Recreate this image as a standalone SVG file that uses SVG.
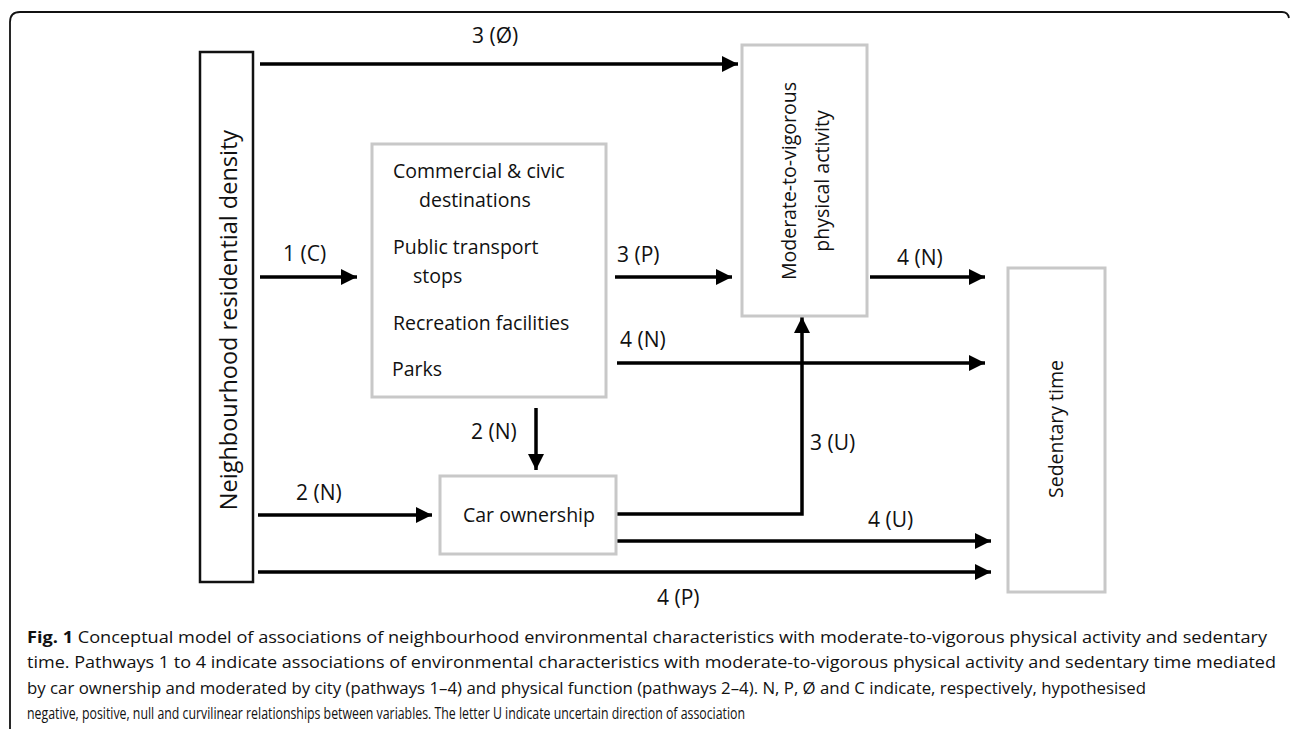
<svg xmlns="http://www.w3.org/2000/svg" width="1290" height="729" viewBox="0 0 1290 729">
<defs>
<style>
.node-dark{fill:#fff;stroke:#111;stroke-width:2.5}
.node-gray{fill:#fff;stroke:#c8c8c8;stroke-width:3}
.t{font-family:"Open Sans","DejaVu Sans",sans-serif;fill:#111}
.box{font-size:19.5px}
.lbl{font-size:21px}
.cap{font-size:16.5px}
.conn{fill:none;stroke:#000;stroke-width:3.5}
</style>
<marker id="ah" markerUnits="userSpaceOnUse" markerWidth="17" markerHeight="17" refX="16" refY="8" orient="auto">
<path d="M0,0 L16,8 L0,16 z" fill="#000"/>
</marker>
</defs>
<rect width="1290" height="729" fill="#fff"/>
<path d="M10,729 V22 Q10,12 20,12 H1282 Q1288,12 1289,18" fill="none" stroke="#111" stroke-width="1.8"/>

<g id="connectors">
<path class="conn" d="M260,64 H738" marker-end="url(#ah)"/>
<path class="conn" d="M260,277 H357" marker-end="url(#ah)"/>
<path class="conn" d="M615,277 H732" marker-end="url(#ah)"/>
<path class="conn" d="M870,277 H985" marker-end="url(#ah)"/>
<path class="conn" d="M617,363 H985" marker-end="url(#ah)"/>
<path class="conn" d="M536,408 V470" marker-end="url(#ah)"/>
<path class="conn" d="M258,515 H432" marker-end="url(#ah)"/>
<path class="conn" d="M616,514 H802 V317" marker-end="url(#ah)"/>
<path class="conn" d="M616,541 H991" marker-end="url(#ah)"/>
<path class="conn" d="M258,572 H991" marker-end="url(#ah)"/>
<text class="t lbl" x="472" y="43">3 (Ø)</text>
<text class="t lbl" x="283" y="261">1 (C)</text>
<text class="t lbl" x="617" y="262">3 (P)</text>
<text class="t lbl" x="897" y="265">4 (N)</text>
<text class="t lbl" x="620" y="347">4 (N)</text>
<text class="t lbl" x="471" y="439">2 (N)</text>
<text class="t lbl" x="296" y="500">2 (N)</text>
<text class="t lbl" x="810" y="450">3 (U)</text>
<text class="t lbl" x="868" y="527">4 (U)</text>
<text class="t lbl" x="657" y="605">4 (P)</text>
</g>

<g id="node-density">
<rect class="node-dark" x="200" y="52" width="53" height="530"/>
<text class="t" font-size="23.5px" text-anchor="middle" transform="translate(237,320) rotate(-90)">Neighbourhood residential density</text>
</g>

<g id="node-environment">
<rect class="node-gray" x="372" y="144" width="234" height="253"/>
<text class="t box" x="393" y="178">Commercial &amp; civic</text>
<text class="t box" x="419" y="207">destinations</text>
<text class="t box" x="393" y="254">Public transport</text>
<text class="t box" x="413" y="283">stops</text>
<text class="t box" x="393" y="330">Recreation facilities</text>
<text class="t box" x="392" y="376">Parks</text>
</g>

<g id="node-mvpa">
<rect class="node-gray" x="742" y="45" width="125" height="271"/>
<text class="t box" text-anchor="middle" transform="translate(796,181) rotate(-90)">Moderate-to-vigorous</text>
<text class="t box" text-anchor="middle" transform="translate(829,181) rotate(-90)">physical activity</text>
</g>

<g id="node-car">
<rect class="node-gray" x="440" y="476" width="176" height="78"/>
<text class="t box" x="463" y="522">Car ownership</text>
</g>

<g id="node-sedentary">
<rect class="node-gray" x="1008" y="268" width="97" height="324"/>
<text class="t box" text-anchor="middle" transform="translate(1063,429) rotate(-90)">Sedentary time</text>
</g>

<g id="caption">
<text class="t cap" x="27" y="643" textLength="1240" lengthAdjust="spacingAndGlyphs"><tspan font-weight="bold">Fig. 1</tspan> Conceptual model of associations of neighbourhood environmental characteristics with moderate-to-vigorous physical activity and sedentary</text>
<text class="t cap" x="27" y="668" textLength="1249" lengthAdjust="spacingAndGlyphs">time. Pathways 1 to 4 indicate associations of environmental characteristics with moderate-to-vigorous physical activity and sedentary time mediated</text>
<text class="t cap" x="27" y="694" textLength="1119" lengthAdjust="spacingAndGlyphs">by car ownership and moderated by city (pathways 1–4) and physical function (pathways 2–4). N, P, Ø and C indicate, respectively, hypothesised</text>
<text class="t cap" x="27" y="719" textLength="718" lengthAdjust="spacingAndGlyphs">negative, positive, null and curvilinear relationships between variables. The letter U indicate uncertain direction of association</text>
</g>
</svg>
